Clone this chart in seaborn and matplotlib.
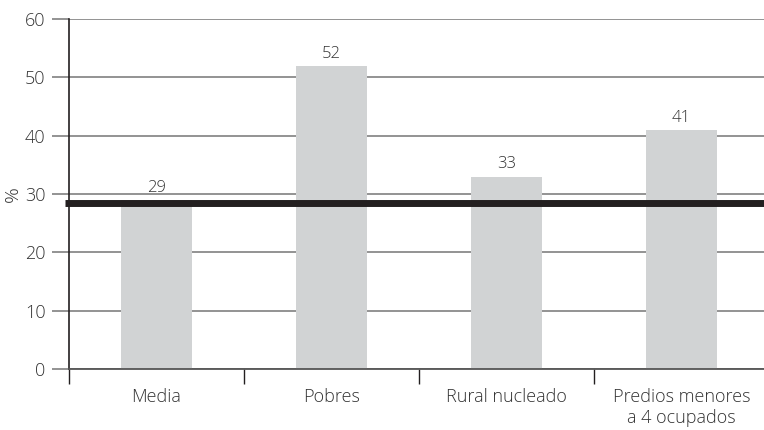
import matplotlib
matplotlib.use("Agg")
import matplotlib.pyplot as plt
import seaborn as sns
import numpy as np

# data
categories = ["Media", "Pobres", "Rural nucleado", "Predios menores\na 4 ocupados"]
values = [29, 52, 33, 41]
mean_line = 28.5

sns.set_style("white")
plt.rcParams["font.family"] = ["Open Sans", "DejaVu Sans"]

fig = plt.figure(figsize=(7.64, 4.30), dpi=100)
ax = fig.add_axes([69 / 764, 61 / 430, 700 / 764, 350 / 430])

sns.barplot(x=categories, y=values, color="#d1d3d4", width=0.41, saturation=1,
            linewidth=0, edgecolor="none", ax=ax, zorder=2)
ax.bar_label(ax.containers[0], labels=[str(v) for v in values], padding=3,
             fontsize=12, color="#333333", fontweight="light")

# average line
ax.axhline(mean_line, xmin=-0.006, xmax=1, color="#231f20", lw=5, zorder=4,
           clip_on=False, solid_capstyle="butt")

ax.set_ylim(0, 60)
ax.set_xlim(-0.5, 3.5)
ax.set_yticks(np.arange(0, 61, 10))
ax.yaxis.grid(True, color="#8a8a8a", lw=1.3, zorder=0)
ax.set_axisbelow(True)
ax.tick_params(axis="y", left=True, length=12, width=1.3, color="#8a8a8a", pad=5,
               labelsize=13, labelcolor="#333333")

ax.set_xticks(range(len(categories)))
ax.set_xticklabels(categories, fontweight="light")
for lbl in ax.get_yticklabels():
    lbl.set_fontweight("light")
ax.set_xticks([-0.5, 0.5, 1.5, 2.5], minor=True)
ax.tick_params(axis="x", which="major", bottom=True, length=0, pad=14, labelsize=13,
               labelcolor="#333333")
ax.tick_params(axis="x", which="minor", bottom=True, length=11, width=1, color="#231f20")

for side in ["top", "right"]:
    ax.spines[side].set_visible(False)
ax.spines["left"].set_color("#231f20")
ax.spines["left"].set_linewidth(1.2)
ax.spines["bottom"].set_color("#555555")
ax.spines["bottom"].set_linewidth(1.3)

ax.set_xlabel("")
ax.set_ylabel("%", fontsize=14, color="#333333", labelpad=2, fontweight="light")

fig.savefig("out.png", dpi=100)
